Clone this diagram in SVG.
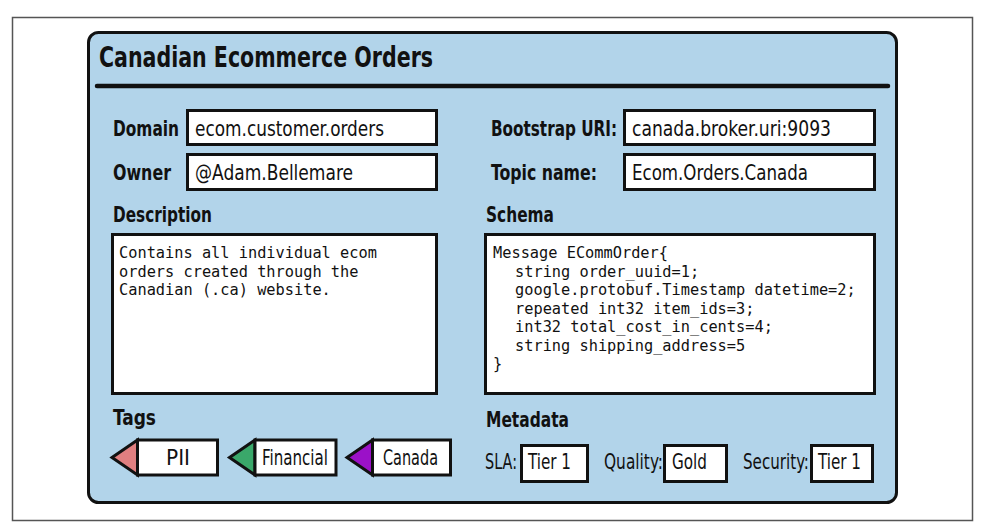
<svg xmlns="http://www.w3.org/2000/svg" width="984" height="531" viewBox="0 0 984 531">
<style>
.lbl{font-family:"Liberation Sans Narrow","DejaVu Sans Condensed","Liberation Sans",sans-serif;font-size:21.5px;fill:#111}
.hd{font-family:"Liberation Sans Narrow","DejaVu Sans Condensed","Liberation Sans",sans-serif;font-size:21.5px;font-weight:bold;fill:#111}
.mono{font-family:"DejaVu Sans Mono","Liberation Mono",monospace;font-size:15.3px;fill:#111}
.box{fill:#fff;stroke:#111;stroke-width:3}
.tri{stroke:#111;stroke-width:3;stroke-linejoin:miter}
</style>
<rect x="0" y="0" width="984" height="531" fill="#fff"/>
<rect x="12.5" y="17.5" width="960" height="503" fill="#fff" stroke="#555" stroke-width="1.5"/>
<g id="card">
<rect x="88.5" y="32.5" width="808" height="470" rx="10" fill="#b2d4ea" stroke="#111" stroke-width="3"/>
<text x="99" y="67" font-family="Liberation Sans Narrow,DejaVu Sans Condensed,sans-serif" font-size="27.5" font-weight="bold" fill="#111" textLength="334" lengthAdjust="spacingAndGlyphs">Canadian Ecommerce Orders</text>
<line x1="97" y1="86" x2="888" y2="86" stroke="#111" stroke-width="4.5" stroke-linecap="round"/>
</g>
<g id="domain">
<text class="hd" x="113" y="136" textLength="66" lengthAdjust="spacingAndGlyphs">Domain</text>
<rect class="box" x="187.5" y="110.5" width="249" height="34"/>
<text class="lbl" x="195" y="136" textLength="189" lengthAdjust="spacingAndGlyphs">ecom.customer.orders</text>
</g>
<g id="owner">
<text class="hd" x="113" y="180" textLength="58" lengthAdjust="spacingAndGlyphs">Owner</text>
<rect class="box" x="187.5" y="154.5" width="249" height="35"/>
<text class="lbl" x="195" y="180" textLength="158" lengthAdjust="spacingAndGlyphs">@Adam.Bellemare</text>
</g>
<g id="bootstrap">
<text class="hd" transform="translate(491,136) scale(0.78,1)" x="0" y="0" textLength="161.5" lengthAdjust="spacingAndGlyphs">Bootstrap URI:</text>
<rect class="box" x="624.5" y="110.5" width="250" height="34"/>
<text class="lbl" x="632" y="136" textLength="199" lengthAdjust="spacingAndGlyphs">canada.broker.uri:9093</text>
</g>
<g id="topic">
<text class="hd" x="491" y="180" textLength="106" lengthAdjust="spacingAndGlyphs">Topic name:</text>
<rect class="box" x="624.5" y="154.5" width="250" height="35"/>
<text class="lbl" x="632" y="180" textLength="176" lengthAdjust="spacingAndGlyphs">Ecom.Orders.Canada</text>
</g>
<g id="description">
<text class="hd" x="113" y="222" textLength="99" lengthAdjust="spacingAndGlyphs">Description</text>
<rect class="box" x="112.5" y="234.5" width="324" height="159"/>
<text class="mono" x="119" y="258">Contains all individual ecom</text>
<text class="mono" x="119" y="276.5">orders created through the</text>
<text class="mono" x="119" y="295">Canadian (.ca) website.</text>
</g>
<g id="schema">
<text class="hd" x="486" y="222" textLength="68" lengthAdjust="spacingAndGlyphs">Schema</text>
<rect class="box" x="485.5" y="234.5" width="389" height="159"/>
<text class="mono" x="493" y="258">Message ECommOrder{</text>
<text class="mono" x="515" y="276.5">string order_uuid=1;</text>
<text class="mono" x="515" y="295">google.protobuf.Timestamp datetime=2;</text>
<text class="mono" x="515" y="313.5">repeated int32 item_ids=3;</text>
<text class="mono" x="515" y="332">int32 total_cost_in_cents=4;</text>
<text class="mono" x="515" y="350.5">string shipping_address=5</text>
<text class="mono" x="493" y="369">}</text>
</g>
<g id="tags">
<text class="hd" x="113" y="425" textLength="43" lengthAdjust="spacingAndGlyphs">Tags</text>
</g>
<g id="tag-pii">
<polygon class="tri" points="137.5,440 112,457.5 137.5,475" fill="#e07f80"/>
<rect class="box" x="137.5" y="440" width="80" height="35"/>
<text class="lbl" x="178" y="465" text-anchor="middle" textLength="24" lengthAdjust="spacingAndGlyphs">PII</text>
</g>
<g id="tag-financial">
<polygon class="tri" points="255,440 229.5,457.5 255,475" fill="#3aa86a"/>
<rect class="box" x="255" y="440" width="81" height="35"/>
<text class="lbl" x="262" y="465" textLength="66" lengthAdjust="spacingAndGlyphs">Financial</text>
</g>
<g id="tag-canada">
<polygon class="tri" points="372.5,440 347,457.5 372.5,475" fill="#9b11c8"/>
<rect class="box" x="372.5" y="440" width="78" height="35"/>
<text class="lbl" x="383" y="465" textLength="55" lengthAdjust="spacingAndGlyphs">Canada</text>
</g>
<g id="metadata">
<text class="hd" x="486" y="427" textLength="83" lengthAdjust="spacingAndGlyphs">Metadata</text>
</g>
<g id="sla">
<text class="lbl" x="485" y="469" textLength="32" lengthAdjust="spacingAndGlyphs">SLA:</text>
<rect class="box" x="521.5" y="445.5" width="66" height="36"/>
<text class="lbl" x="528" y="469" textLength="43" lengthAdjust="spacingAndGlyphs">Tier 1</text>
</g>
<g id="quality">
<text class="lbl" transform="translate(604,469) scale(0.76,1)" x="0" y="0" textLength="77.6" lengthAdjust="spacingAndGlyphs">Quality:</text>
<rect class="box" x="664.5" y="445.5" width="62" height="36"/>
<text class="lbl" x="672" y="469" textLength="35" lengthAdjust="spacingAndGlyphs">Gold</text>
</g>
<g id="security">
<text class="lbl" transform="translate(743,469) scale(0.76,1)" x="0" y="0" textLength="86.8" lengthAdjust="spacingAndGlyphs">Security:</text>
<rect class="box" x="811.5" y="445.5" width="61" height="36"/>
<text class="lbl" x="818" y="469" textLength="43" lengthAdjust="spacingAndGlyphs">Tier 1</text>
</g>
<g id="connectors"/>
</svg>
